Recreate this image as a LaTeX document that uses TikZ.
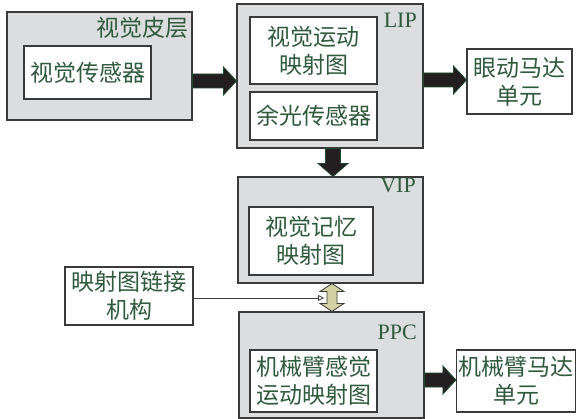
\documentclass[tikz,border=0pt]{standalone}
\usepackage{fontspec}
\setmainfont{Liberation Serif}
\newfontfamily\cjk{Noto Sans CJK SC}
\usetikzlibrary{arrows.meta,calc}
\definecolor{txt}{HTML}{2F5A3C}
\definecolor{gfill}{HTML}{DCDDDF}
\definecolor{bord}{HTML}{3A3A3A}
\definecolor{afill}{HTML}{231F20}
\definecolor{adraw}{HTML}{1E4A2E}
\definecolor{khaki}{HTML}{D4D2A4}
\tikzset{
  box/.style={draw=bord, line width=1.1pt, inner sep=0pt, align=center, text=txt,
    font=\cjk\fontsize{23}{28}\selectfont},
  outer/.style={box, fill=gfill},
  inner/.style={box, fill=white},
  lbl/.style={text=txt, inner sep=0pt, anchor=east, font=\fontsize{22}{26}\selectfont},
  ttl/.style={text=txt, inner sep=0pt, anchor=east, font=\cjk\fontsize{23}{28}\selectfont},
  fat/.style={fill=afill, draw=adraw, line width=0.8pt, line join=miter},
  dbl/.style={fill=khaki, draw=bord, line width=0.8pt},
  thinarrow/.style={draw=bord, line width=0.8pt, -{Triangle[open, length=6pt, width=6pt]}}
}
\begin{document}
\begin{tikzpicture}[x=1pt,y=-1pt]
\useasboundingbox (0,0) rectangle (577,419);
% visual cortex
\node[outer, minimum width=185pt, minimum height=108pt] (vc) at (99.5,66) {};
\node[ttl] (vct) at (189,28) {视觉皮层};
\node[inner, minimum width=127pt, minimum height=53pt] (vcs) at (87.5,72.5) {视觉传感器};
% LIP
\node[outer, minimum width=186pt, minimum height=144pt] (lip) at (330,76) {};
\node[lbl] (lipt) at (417,20) {LIP};
\node[inner, minimum width=127pt, minimum height=67pt] (lipm) at (313.5,50.5) {视觉运动\\映射图};
\node[inner, minimum width=127pt, minimum height=48pt] (lipp) at (313.5,116) {余光传感器};
\node[inner, minimum width=105pt, minimum height=65pt] (eye) at (519.5,81.5) {眼动马达\\单元};
% VIP
\node[outer, minimum width=185pt, minimum height=106pt] (vip) at (330.5,230) {};
\node[lbl] (vipt) at (416,185) {VIP};
\node[inner, minimum width=124pt, minimum height=68pt] (vipm) at (311,241) {视觉记忆\\映射图};
% link
\node[inner, minimum width=128pt, minimum height=58pt] (link) at (129,296) {映射图链接\\机构};
% PPC
\node[outer, minimum width=185pt, minimum height=106pt] (ppc) at (331.5,365) {};
\node[lbl] (ppct) at (417,332) {PPC};
\node[inner, minimum width=127pt, minimum height=62pt] (ppcm) at (313.5,381) {机械臂感觉\\运动映射图};
\node[inner, minimum width=119pt, minimum height=62pt] (arm) at (516,381) {机械臂马达\\单元};
% fat arrows
\draw[fat] let \p1=(vc.east), \p2=(lip.west) in
  (\x1,-74pt) -- (\x2-13pt,-74pt) -- (\x2-13pt,-67pt) -- (\x2,-81pt) -- (\x2-13pt,-95pt) -- (\x2-13pt,-88pt) -- (\x1,-88pt) -- cycle;
\draw[fat] let \p1=(lip.east), \p2=(eye.west) in
  (\x1,-73pt) -- (\x2-13pt,-73pt) -- (\x2-13pt,-66pt) -- (\x2,-80pt) -- (\x2-13pt,-94pt) -- (\x2-13pt,-87pt) -- (\x1,-87pt) -- cycle;
\draw[fat] let \p1=(ppc.east), \p2=(arm.west) in
  (\x1,-373pt) -- (\x2-13pt,-373pt) -- (\x2-13pt,-366pt) -- (\x2,-380pt) -- (\x2-13pt,-394pt) -- (\x2-13pt,-387pt) -- (\x1,-387pt) -- cycle;
\draw[fat] let \p1=(lip.south), \p2=(vip.north) in
  (325.5pt,\y1) -- (325.5pt,\y2+13pt) -- (318pt,\y2+13pt) -- (333pt,\y2) -- (348pt,\y2+13pt) -- (340.5pt,\y2+13pt) -- (340.5pt,\y1) -- cycle;
% double arrow
\draw[dbl] let \p1=(vip.south), \p2=(ppc.north) in
  (327pt,\y1-8pt) -- (320pt,\y1-8pt) -- (332pt,\y1) -- (344pt,\y1-8pt) -- (337pt,\y1-8pt) --
  (337pt,\y2+8pt) -- (344pt,\y2+8pt) -- (332pt,\y2) -- (320pt,\y2+8pt) -- (327pt,\y2+8pt) -- cycle;
% thin arrow
\coordinate (lt) at (324,298);
\draw[thinarrow] (link.east |- lt) -- (lt);
\end{tikzpicture}
\end{document}
